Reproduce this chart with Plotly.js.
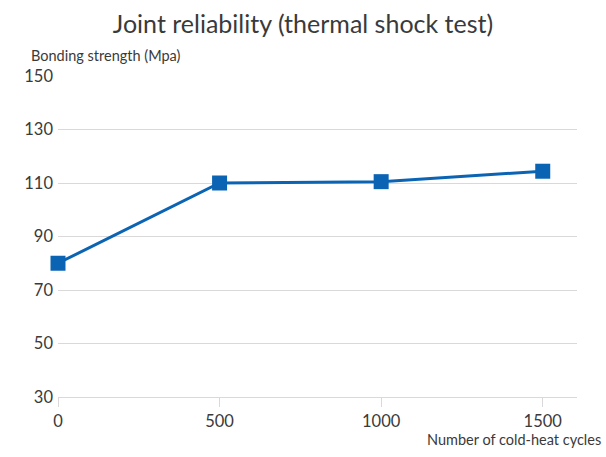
<!DOCTYPE html>
<html>
<head>
<meta charset="utf-8">
<script src="https://cdn.plot.ly/plotly-3.0.1.min.js"></script>
<style>
  html, body { margin: 0; padding: 0; background: #fff; }
  #chart { width: 606px; height: 457px; }
</style>
</head>
<body>
<div id="chart"></div>
<script>
// cold-heat cycles vs bonding strength
let cycles = [0, 500, 1000, 1500];
let strength = [80, 110, 110.5, 114.4];
let y_ticks = [30, 50, 70, 90, 110, 130, 150];
let x_ticks = [0, 500, 1000, 1500];

let font_name = "Lato, 'Noto Sans', sans-serif";
let text_color = "#3a3a3a";
let grid_color = "#d9d9d9";

let trace = {
    x: cycles,
    y: strength,
    type: "scatter",
    mode: "lines+markers",
    line: { color: "#0b64b3", width: 3 },
    marker: { symbol: "square", size: 15, color: "#0b64b3" },
    cliponaxis: false,
    hoverinfo: "x+y"
};

let layout = {
    width: 606,
    height: 457,
    margin: { l: 58, r: 29, t: 76, b: 60 },
    paper_bgcolor: "#ffffff",
    plot_bgcolor: "#ffffff",
    showlegend: false,
    font: { family: font_name, color: text_color, size: 16 },
    title: {
        text: "Joint reliability (thermal shock test)",
        font: { family: font_name, size: 25, color: text_color },
        x: 0.5,
        xanchor: "center",
        y: 0.965,
        yanchor: "top"
    },
    xaxis: {
        range: [0, 1606],
        tickvals: x_ticks,
        ticktext: x_ticks.map(String),
        showgrid: false,
        zeroline: false,
        showline: true,
        linecolor: grid_color,
        linewidth: 1,
        ticks: "outside",
        ticklen: 9,
        tickcolor: grid_color,
        tickfont: { size: 16.5, color: text_color }
    },
    yaxis: {
        range: [30, 150],
        tickvals: y_ticks,
        ticktext: y_ticks.map(String),
        showgrid: true,
        gridcolor: grid_color,
        zeroline: false,
        showline: false,
        ticks: "",
        ticklabelstandoff: 4,
        tickfont: { size: 16.5, color: text_color }
    },
    annotations: [
        {
            text: "Bonding strength (Mpa)",
            xref: "paper", yref: "paper",
            x: -0.056, y: 1.0,
            xanchor: "left", yanchor: "bottom",
            yshift: 10,
            showarrow: false,
            font: { size: 14.5, color: text_color }
        },
        {
            text: "Number of cold-heat cycles",
            xref: "paper", yref: "paper",
            x: 1.05, y: 0,
            xanchor: "right", yanchor: "top",
            yshift: -32,
            showarrow: false,
            font: { size: 14.5, color: text_color }
        }
    ]
};

Plotly.newPlot("chart", [trace], layout, { staticPlot: true, displayModeBar: false });
</script>
</body>
</html>
